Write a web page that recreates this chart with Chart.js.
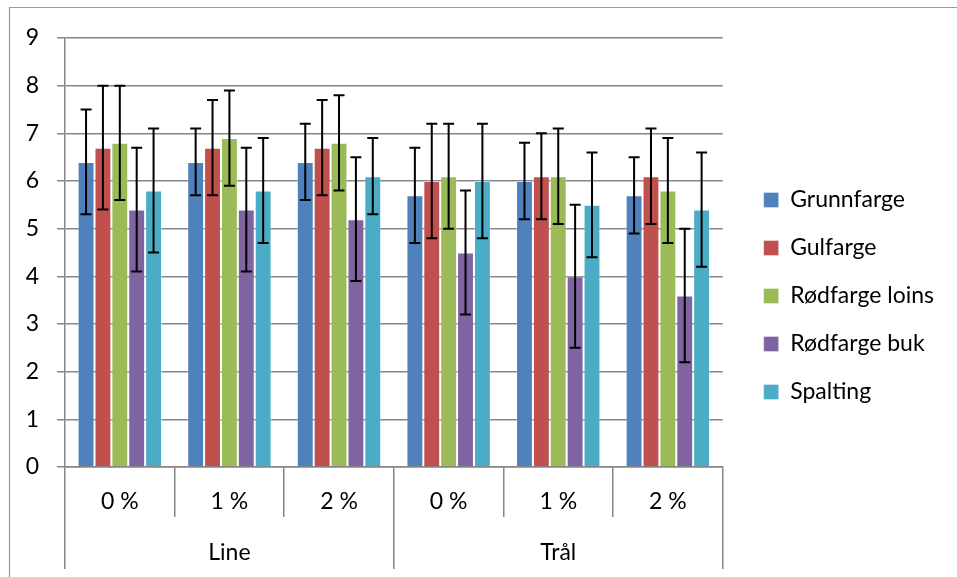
<!DOCTYPE html>
<html>
<head>
<meta charset="utf-8">
<script src="https://cdn.jsdelivr.net/npm/chart.js@4/dist/chart.umd.min.js"></script>
<style>
  html, body { margin: 0; padding: 0; background: #fff; }
  #wrap { width: 957px; height: 577px; }
</style>
</head>
<body>
<div id="wrap"><canvas id="chart"></canvas></div>
<script>
// categories (inner level) and groups (outer level)
const categories = ['0 %', '1 %', '2 %', '0 %', '1 %', '2 %'];
const groups = ['Line', 'Trål'];
const yTicks = [0, 1, 2, 3, 4, 5, 6, 7, 8, 9];

// series values and their error margins (+/-)
const grunnfarge = [6.4, 6.4, 6.4, 5.7, 6.0, 5.7];
const grunnfargeErr = [1.1, 0.7, 0.8, 1.0, 0.8, 0.8];
const gulfarge = [6.7, 6.7, 6.7, 6.0, 6.1, 6.1];
const gulfargeErr = [1.3, 1.0, 1.0, 1.2, 0.9, 1.0];
const rodfargeLoins = [6.8, 6.9, 6.8, 6.1, 6.1, 5.8];
const rodfargeLoinsErr = [1.2, 1.0, 1.0, 1.1, 1.0, 1.1];
const rodfargeBuk = [5.4, 5.4, 5.2, 4.5, 4.0, 3.6];
const rodfargeBukErr = [1.3, 1.3, 1.3, 1.3, 1.5, 1.4];
const spalting = [5.8, 5.8, 6.1, 6.0, 5.5, 5.4];
const spaltingErr = [1.3, 1.1, 0.8, 1.2, 1.1, 1.2];

const FONT = 'Lato';
const GRID = '#868686';

function series(label, data, errors, color) {
    return {
        label: label,
        data: data,
        errors: errors, // used by the error bar plugin
        backgroundColor: color,
        borderColor: 'rgba(255,255,255,0.35)',
        borderWidth: 1,
        barPercentage: 1,
        categoryPercentage: 0.77
    };
}

// draws the black +/- whiskers from each bar's value through the y scale
const errorBars = {
    id: 'errorBars',
    afterDatasetsDraw(chart) {
        const ctx = chart.ctx;
        const y = chart.scales.y;
        ctx.save();
        ctx.strokeStyle = '#000';
        ctx.lineWidth = 2;
        chart.data.datasets.forEach((ds, i) => {
            const meta = chart.getDatasetMeta(i);
            meta.data.forEach((bar, j) => {
                const top = y.getPixelForValue(ds.data[j] + ds.errors[j]);
                const bot = y.getPixelForValue(ds.data[j] - ds.errors[j]);
                const cap = 5.5;
                ctx.beginPath();
                ctx.moveTo(bar.x, top); ctx.lineTo(bar.x, bot);
                ctx.moveTo(bar.x - cap, top); ctx.lineTo(bar.x + cap, top);
                ctx.moveTo(bar.x - cap, bot); ctx.lineTo(bar.x + cap, bot);
                ctx.stroke();
            });
        });
        ctx.restore();
    }
};

// thin frame around the chart like the exported picture
const frame = {
    id: 'frame',
    beforeDraw(chart) {
        const ctx = chart.ctx;
        ctx.save();
        ctx.strokeStyle = '#9a9a9a';
        ctx.lineWidth = 1.2;
        ctx.beginPath();
        ctx.moveTo(9.5, chart.height);
        ctx.lineTo(9.5, 7.5);
        ctx.lineTo(chart.width, 7.5);
        ctx.stroke();
        ctx.restore();
    }
};

// nudge the legend block: a bit right of the plot and a bit up
const legendNudge = {
    id: 'legendNudge',
    afterLayout(chart) {
        const lg = chart.legend;
        lg.left += 16;
        lg.right = chart.width; // legend clips to its box
        lg.top -= 8;
        lg.bottom -= 8;
    }
};

Chart.defaults.font.family = FONT;
Chart.defaults.font.size = 23;
Chart.defaults.color = '#000';

new Chart(document.getElementById('chart').getContext('2d'), {
    type: 'bar',
    data: {
        labels: categories,
        datasets: [
            series('Grunnfarge', grunnfarge, grunnfargeErr, '#4F81BD'),
            series('Gulfarge', gulfarge, gulfargeErr, '#C0504D'),
            series('Rødfarge loins', rodfargeLoins, rodfargeLoinsErr, '#9BBB59'),
            series('Rødfarge buk', rodfargeBuk, rodfargeBukErr, '#8064A2'),
            series('Spalting', spalting, spaltingErr, '#4BACC6')
        ]
    },
    options: {
        responsive: true,
        maintainAspectRatio: false,
        animation: false,
        layout: { padding: { top: 38, bottom: 7, left: 15, right: 29 } },
        plugins: {
            tooltip: { enabled: false },
            legend: {
                position: 'right',
                labels: {
                    boxWidth: 15,
                    boxHeight: 15,
                    padding: 25,
                    font: { family: FONT, size: 23 }
                }
            }
        },
        scales: {
            y: {
                min: 0,
                max: 9,
                afterBuildTicks(scale) {
                    scale.ticks = yTicks.map(v => ({ value: v }));
                },
                afterFit(scale) { scale.width = 50; },
                ticks: { padding: 18, font: { size: 23 } },
                grid: { color: GRID, lineWidth: 1.5, tickLength: 8 },
                border: { color: GRID, width: 1.5 }
            },
            x: {
                afterFit(scale) { scale.height = 50; },
                ticks: { padding: -29, maxRotation: 0, autoSkip: false, font: { size: 23 } },
                grid: { offset: true, drawOnChartArea: false, tickLength: 50, color: GRID, lineWidth: 1.5 },
                border: { color: GRID, width: 1.5 }
            },
            group: {
                type: 'category',
                position: 'bottom',
                labels: groups,
                afterFit(scale) { scale.height = 53; },
                ticks: { padding: -30, maxRotation: 0, font: { size: 23 } },
                grid: { offset: true, drawOnChartArea: false, tickLength: 52, color: GRID, lineWidth: 1.5 },
                border: { display: false }
            }
        }
    },
    plugins: [errorBars, frame, legendNudge]
});
</script>
</body>
</html>
